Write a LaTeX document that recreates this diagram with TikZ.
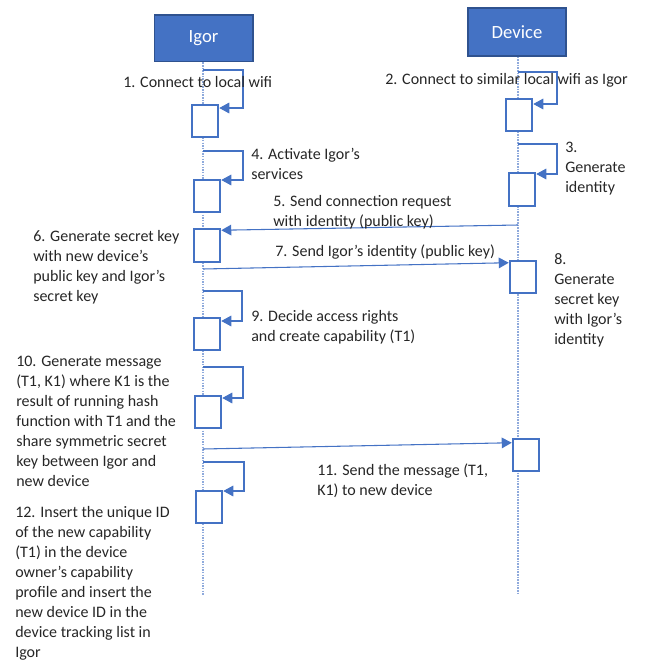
\documentclass[tikz,border=0pt]{standalone}
\usepackage{fontspec}
\setmainfont{Carlito}
\usetikzlibrary{arrows.meta,calc}
\definecolor{hdrfill}{HTML}{4472C4}
\definecolor{hdrline}{HTML}{2F528F}
\definecolor{wire}{HTML}{4472C4}
\definecolor{lifec}{HTML}{8FAADC}
\definecolor{txt}{HTML}{262626}
\begin{document}
\begin{tikzpicture}[x=0.75pt,y=-0.75pt,
  head/.style={draw=hdrline,fill=hdrfill,line width=1pt,text=white,
    font=\fontsize{14pt}{17pt}\selectfont,inner sep=0pt},
  actbox/.style={draw=wire,fill=white,line width=1.4pt,inner sep=0pt,
    minimum width=20pt,minimum height=24.5pt},
  life/.style={draw=lifec,line width=1.2pt,dash pattern=on 1.2pt off 0.8pt},
  msg/.style={draw=wire,line width=0.8pt,-{Triangle[length=7.5pt,width=8pt]}},
  lbl/.style={anchor=north west,inner sep=0pt,align=left,text=txt,
    font=\fontsize{12pt}{15pt}\selectfont}]
\useasboundingbox (0,0) rectangle (649,660);

% participants
\node[head,minimum width=74pt,minimum height=35pt] (igor) at (203.5,38.5) {Igor};
\node[head,minimum width=73.5pt,minimum height=36pt] (dev) at (517,32) {Device};

% lifelines
\coordinate (igorEnd) at (203,595);
\coordinate (devEnd) at (518,595);
\draw[life] (igor.south -| igorEnd) -- (igorEnd);
\draw[life] (dev.south -| devEnd) -- (devEnd);

% activation boxes
\node[actbox] (i1) at (205,121) {};
\node[actbox] (d1) at (519,115) {};
\node[actbox] (d2) at (522,189.5) {};
\node[actbox] (i2) at (207,196) {};
\node[actbox] (i3) at (207,245.5) {};
\node[actbox] (d3) at (523,277) {};
\node[actbox] (i4) at (207,334) {};
\node[actbox] (i5) at (208,412) {};
\node[actbox] (d4) at (526,455) {};
\node[actbox] (i6) at (209,507) {};

% self calls
\coordinate (s1) at (203,70);  \coordinate (c1) at (243,108);
\coordinate (s2) at (518,72);  \coordinate (c2) at (557,104);
\coordinate (s3) at (518,144); \coordinate (c3) at (557,174);
\coordinate (s4) at (203,151); \coordinate (c4) at (243,180);
\coordinate (s9) at (203,291); \coordinate (c9) at (242,321);
\coordinate (s10) at (203,367); \coordinate (c10) at (243,398);
\coordinate (s12) at (203,462); \coordinate (c12) at (244,491);
\draw[msg] (s1) -| (c1) -- (i1.east |- c1);
\draw[msg] (s2) -| (c2) -- (d1.east |- c2);
\draw[msg] (s3) -| (c3) -- (d2.east |- c3);
\draw[msg] (s4) -| (c4) -- (i2.east |- c4);
\draw[msg] (s9) -| (c9) -- (i4.east |- c9);
\draw[msg] (s10) -| (c10) -- (i5.east |- c10);
\draw[msg] (s12) -| (c12) -- (i6.east |- c12);

% messages between participants
\coordinate (m5) at (518,225);
\coordinate (m7) at (203,269);
\coordinate (m11) at (203,449);
\draw[msg] (m5) -- ($(i3.north east)+(0,2)$);
\draw[msg] (m7) -- ($(d3.north west)+(0,3)$);
\draw[msg] (m11) -- ($(d4.north west)+(0,5)$);

% step labels
\node[lbl] (t1) at (123,76) {1. Connect to local wifi};
\node[lbl] (t2) at (385,73) {2. Connect to similar local wifi as Igor};
\node[lbl] (t3) at (565,142) {3.\\Generate\\identity};
\node[lbl] (t4) at (251,148) {4. Activate Igor’s\\services};
\node[lbl] (t5) at (273,195) {5. Send connection request\\with identity (public key)};
\node[lbl] (t6) at (33,230) {6. Generate secret key\\with new device’s\\public key and Igor’s\\secret key};
\node[lbl] (t7) at (275,245) {7. Send Igor’s identity (public key)};
\node[lbl] (t8) at (554,253) {8.\\Generate\\secret key\\with Igor’s\\identity};
\node[lbl] (t9) at (251,310) {9. Decide access rights\\and create capability (T1)};
\node[lbl] (t10) at (16,356) {10. Generate message\\(T1, K1) where K1 is the\\result of running hash\\function with T1 and the\\share symmetric secret\\key between Igor and\\new device};
\node[lbl] (t11) at (317,464) {11. Send the message (T1,\\K1) to new device};
\node[lbl] (t12) at (15,506) {12. Insert the unique ID\\of the new capability\\(T1) in the device\\owner’s capability\\profile and insert the\\new device ID in the\\device tracking list in\\Igor};
\end{tikzpicture}
\end{document}
